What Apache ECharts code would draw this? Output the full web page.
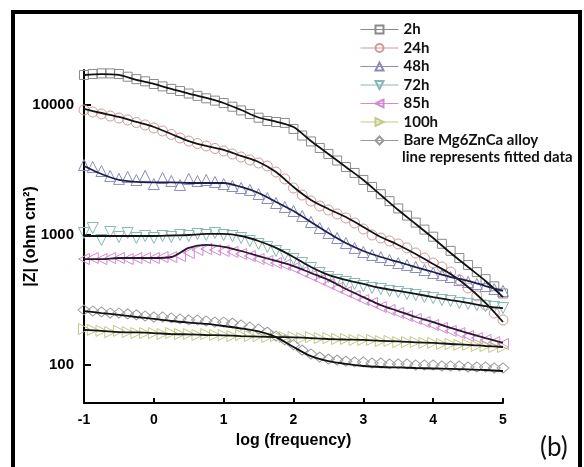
<!DOCTYPE html>
<html>
<head>
<meta charset="utf-8">
<script src="https://cdn.jsdelivr.net/npm/echarts@6/dist/echarts.min.js"></script>
<style>
  html, body { margin: 0; padding: 0; background: #fff; }
  #chart { width: 584px; height: 467px; }
</style>
</head>
<body>
<div id="chart"></div>
<script>
// log(frequency) of measured points
const logFreq = [-1, -0.875, -0.75, -0.625, -0.5, -0.375, -0.25, -0.125, 0, 0.125, 0.25, 0.375, 0.5, 0.625, 0.75, 0.875,
  1, 1.125, 1.25, 1.375, 1.5, 1.625, 1.75, 1.875, 2, 2.125, 2.25, 2.375, 2.5, 2.625, 2.75, 2.875,
  3, 3.125, 3.25, 3.375, 3.5, 3.625, 3.75, 3.875, 4, 4.125, 4.25, 4.375, 4.5, 4.625, 4.75, 4.875, 5]

// |Z| measured (ohm cm2)
const z2h = [17000, 17300, 17500, 17500, 17300, 16500, 15800, 15200, 14500, 13900, 13300, 12800, 12250, 11750, 11250, 10800,
  10350, 9700, 9080, 8530, 7980, 7530, 7400, 7280, 6540, 5820, 5240, 4670, 4200, 3740, 3335, 3000,
  2650, 2340, 2060, 1820, 1600, 1410, 1245, 1100, 970, 855, 755, 665, 587, 518, 457, 403, 355]
const z24h = [9150, 8835, 8530, 8225, 7940, 7670, 7330, 7020, 6650, 6310, 5930, 5570, 5280, 5055, 4840, 4630,
  4430, 4200, 3980, 3775, 3580, 3395, 3050, 2700, 2300, 2030, 1825, 1670, 1557, 1450, 1352, 1237,
  1112, 1000, 948, 899, 853, 795, 727, 665, 609, 567, 519, 451, 391, 340, 289, 251, 222]
const z48h = [3455, 3335, 3105, 2845, 2700, 2795, 2650, 2845, 2465, 2745, 2603, 2425, 2700, 2603, 2650, 2557,
  2465, 2382, 2300, 2220, 2066, 1925, 1762, 1642, 1530, 1400, 1259, 1132, 1036, 948, 867, 795,
  740, 702, 677, 642, 609, 588, 567, 538, 510, 493, 475, 451, 435, 420, 405, 384, 371]
const z72h = [1036, 1132, 915, 1055, 965, 1036, 948, 982, 948, 982, 965, 1000, 982, 1018, 1000, 1036,
  1000, 982, 948, 899, 853, 809, 753, 702, 654, 609, 557, 510, 475, 451, 435, 420,
  405, 391, 384, 371, 364, 352, 345, 333, 327, 316, 311, 300, 295, 289, 284, 279, 274]
const z85h = [653, 665, 653, 665, 665, 653, 665, 665, 665, 677, 677, 689, 727, 767, 780, 767,
  753, 740, 714, 689, 653, 631, 609, 588, 557, 519, 484, 451, 420, 391, 364, 340,
  316, 300, 279, 265, 251, 238, 226, 214, 203, 193, 183, 176, 167, 161, 156, 150, 145]
const z100h = [189, 186, 183, 179, 183, 179, 176, 176, 176, 173, 176, 173, 173, 170, 173, 170,
  170, 167, 170, 167, 167, 164, 167, 164, 164, 161, 164, 161, 161, 158.5, 158.5, 156,
  156, 156, 153, 153, 150, 150, 150, 148, 148, 145, 145, 143, 143, 140, 140, 137.5, 137.5]
const zBare = [265, 260, 256, 251, 251, 247, 243, 238, 234, 234, 230, 226, 222, 222, 218, 214,
  214, 210, 203, 196, 189, 179, 167, 156, 143, 130, 121.5, 115, 111, 109, 107, 105.5,
  105.5, 103.6, 103.6, 101.8, 101.8, 101.8, 100, 100, 100, 98.2, 98.2, 98.2, 96.5, 96.5, 96.5, 94.8, 94.8]

// fitted curves
const fitFreq = [-1, -0.75, -0.5, -0.25, 0, 0.25, 0.5, 0.75, 1, 1.25, 1.5, 1.75, 2, 2.25, 2.5, 2.75,
  3, 3.25, 3.5, 3.75, 4, 4.25, 4.5, 4.75, 5]
const fit2h = [17010, 17300, 17010, 15570, 14510, 13280, 12250, 11320, 10360, 9150, 8010, 7460, 6770, 5280, 4200, 3335,
  2650, 2030, 1557, 1216, 948, 727, 567, 443, 333]
const fit24h = [9315, 8675, 8085, 7400, 6770, 5980, 5280, 4840, 4510, 4055, 3645, 3050, 2340, 1860, 1585, 1375,
  1152, 965, 838, 714, 598, 501, 398, 300, 214]
const fit48h = [3395, 2945, 2650, 2557, 2535, 2535, 2512, 2512, 2512, 2340, 2105, 1795, 1530, 1259, 1036, 867,
  753, 677, 620, 567, 519, 475, 443, 405, 371]
const fit72h = [982, 982, 982, 982, 982, 991, 1000, 1018, 1018, 982, 899, 795, 677, 567, 493, 451,
  420, 391, 371, 352, 333, 316, 300, 284, 274]
const fit85h = [653, 653, 665, 665, 665, 677, 795, 838, 809, 753, 689, 631, 577, 510, 451, 384,
  333, 289, 260, 234, 214, 193, 176, 161, 148]
const fit100h = [186, 183, 179, 178, 176, 173, 172, 170, 169, 167, 165.5, 164, 163, 161, 158.5, 157,
  156, 153, 152, 149, 148, 145, 143, 140, 137.5]
const fitBare = [260, 251, 243, 234, 226, 218, 212, 207, 199.5, 191, 181, 164, 137.5, 117, 107, 101.8,
  98.2, 96.5, 95.7, 94.8, 94, 93.2, 92.4, 91.5, 89.9]

const names = ['2h', '24h', '48h', '72h', '85h', '100h', 'Bare Mg6ZnCa alloy']
const measured = [z2h, z24h, z48h, z72h, z85h, z100h, zBare]
const fitted = [fit2h, fit24h, fit48h, fit72h, fit85h, fit100h, fitBare]
const yTicks = [100, 1000, 10000]

const colors = ['#8a8a8a', '#cf9a9a', '#8c8cbc', '#86b8b4', '#d48ad4', '#c4c884', '#9a9a9a']
const fitColors = ['#111111', '#141414', '#1c1f4e', '#141414', '#2c1632', '#141414', '#111111']
const symbols = ['rect', 'circle', 'triangle', 'triangle', 'triangle', 'triangle', 'diamond']
const rotates = [0, 0, 0, 180, 90, -90, 0]
const sizes = [9, 10, 11, 11, 11, 11, [12, 10]]

const chart = echarts.init(document.getElementById('chart'))

const pairs = (xs, ys) => xs.map((x, i) => [x, ys[i]])

const dataSeries = names.map((name, i) => ({
  name,
  type: 'line',
  data: pairs(logFreq, measured[i]),
  symbol: symbols[i],
  symbolRotate: rotates[i],
  symbolSize: sizes[i],
  showAllSymbol: true,
  lineStyle: { color: colors[i], width: 1, opacity: 0 },
  itemStyle: { color: 'rgba(255,255,255,0)', borderColor: colors[i], borderWidth: 1 },
  z: 2
}))

const fitSeries = names.map((name, i) => ({
  name: name + ' fit',
  type: 'line',
  data: pairs(fitFreq, fitted[i]),
  smooth: 0.3,
  showSymbol: false,
  lineStyle: { color: fitColors[i], width: 1.8 },
  z: 3
}))

const axisFont = { fontFamily: 'Liberation Sans, Arial', fontWeight: 'bold', color: '#000' }

chart.setOption({
  animation: false,
  backgroundColor: '#fff',
  grid: { left: 84, right: 81, top: 70, bottom: 64 },
  legend: {
    data: names,
    orient: 'vertical',
    left: 355,
    top: 17,
    itemWidth: 38,
    itemHeight: 10,
    itemGap: 3.5,
    lineStyle: { opacity: 1, width: 1 },
    textStyle: { fontFamily: 'Lato', fontWeight: 'bold', fontSize: 15, color: '#111' }
  },
  xAxis: {
    type: 'value',
    min: -1,
    max: 5,
    interval: 1,
    name: 'log (frequency)',
    nameLocation: 'middle',
    nameGap: 30,
    nameTextStyle: { ...axisFont, fontSize: 16 },
    axisLine: { onZero: false, lineStyle: { color: '#000', width: 2 } },
    axisTick: { inside: true, length: 5, lineStyle: { color: '#000', width: 2 } },
    axisLabel: { ...axisFont, fontSize: 14, margin: 10 },
    splitLine: { show: false }
  },
  yAxis: {
    type: 'log',
    logBase: 10,
    min: 51,
    max: 18580,
    name: '|Z| (ohm cm²)',
    nameLocation: 'middle',
    nameGap: 45,
    nameMoveOverlap: false,
    nameTextStyle: { ...axisFont, fontSize: 16 },
    axisLine: { onZero: false, lineStyle: { color: '#000', width: 2 } },
    axisTick: { inside: true, length: 7, customValues: yTicks, lineStyle: { color: '#000', width: 2 } },
    axisLabel: { ...axisFont, fontSize: 15, margin: 10, customValues: yTicks, formatter: (v) => String(Math.round(v)) },
    splitLine: { show: false }
  },
  graphic: [
    {
      type: 'rect',
      shape: { x: 13, y: 12, width: 567, height: 470 },
      style: { fill: 'none', stroke: '#000', lineWidth: 4 },
      silent: true
    },
    {
      type: 'text',
      left: 402,
      top: 150,
      style: { text: 'line represents fitted data', fontFamily: 'Lato', fontWeight: 'bold', fontSize: 15, fill: '#111' }
    },
    {
      type: 'text',
      left: 540,
      top: 435,
      style: { text: '(b)', fontFamily: 'Lato', fontSize: 26, fill: '#111' }
    }
  ],
  series: [...dataSeries, ...fitSeries]
})
</script>
</body>
</html>
